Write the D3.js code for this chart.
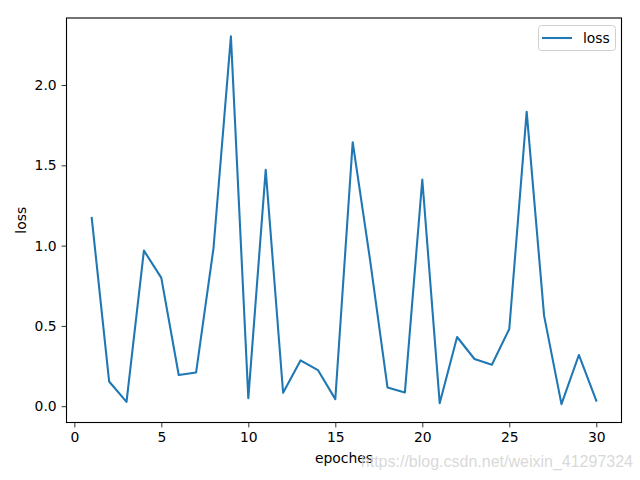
<!DOCTYPE html>
<html><head><meta charset="utf-8">
<script src="https://cdn.jsdelivr.net/npm/d3@7"></script>
<style>body{margin:0;background:#fff}svg{display:block}text{font-family:"DejaVu Sans",sans-serif}</style>
</head><body>
<svg id="c" width="640" height="480"></svg>
<script>
const epochs = [1,2,3,4,5,6,7,8,9,10,11,12,13,14,15,16,17,18,19,20,21,22,23,24,25,26,27,28,29,30];
const loss = [1.173,0.154,0.027,0.969,0.799,0.194,0.210,0.985,2.303,0.050,1.472,0.084,0.285,0.225,0.044,1.644,0.910,0.117,0.086,1.412,0.019,0.431,0.294,0.258,0.481,1.834,0.564,0.013,0.319,0.034];
const xTicks = [0,5,10,15,20,25,30];
const yTicks = [0.0,0.5,1.0,1.5,2.0];

const svg = d3.select("#c");
const L=66.5, R=621.5, T=18, B=422.5;
const xmin=d3.min(epochs), xmax=d3.max(epochs), xr=xmax-xmin;
const ymin=d3.min(loss), ymax=d3.max(loss), yr=ymax-ymin;
const x = d3.scaleLinear().domain([xmin-0.05*xr, xmax+0.05*xr]).range([L,R]);
const y = d3.scaleLinear().domain([ymin-0.05*yr, ymax+0.05*yr]).range([B,T]);

const xa = svg.append("g").attr("transform",`translate(0,${B})`)
  .call(d3.axisBottom(x).tickValues(xTicks).tickFormat(d3.format("d")).tickSize(4.9).tickPadding(4.9));
const ya = svg.append("g").attr("transform",`translate(${L},0)`)
  .call(d3.axisLeft(y).tickValues(yTicks).tickFormat(d3.format(".1f")).tickSize(4.9).tickPadding(4.9));
[xa,ya].forEach(a=>{
  a.select(".domain").remove();
  a.selectAll("line").attr("stroke","#000").attr("stroke-width",0.8);
  a.selectAll("text").attr("font-size","13.9px").attr("fill","#000").style("font-family","DejaVu Sans");
});

svg.append("path").datum(epochs.map((e,i)=>[e,loss[i]]))
  .attr("fill","none").attr("stroke","#1f77b4").attr("stroke-width",2.08)
  .attr("stroke-linejoin","round").attr("stroke-linecap","square")
  .attr("d", d3.line().x(d=>x(d[0])).y(d=>y(d[1])));

svg.append("rect").attr("x",L).attr("y",T).attr("width",R-L).attr("height",B-T)
  .attr("fill","none").attr("stroke","#000").attr("stroke-width",1.1);

svg.append("text").attr("x",(L+R)/2).attr("y",463).attr("text-anchor","middle")
  .attr("font-size","13.9px").text("epoches");
svg.append("text").attr("transform",`translate(26,${(T+B)/2}) rotate(-90)`).attr("text-anchor","middle")
  .attr("font-size","13.9px").text("loss");

// legend
const lg = svg.append("g");
lg.append("rect").attr("x",538.5).attr("y",25.5).attr("width",77).attr("height",25).attr("rx",3)
  .attr("fill","#fff").attr("fill-opacity",0.8).attr("stroke","#d0d0d0").attr("stroke-width",1);
lg.append("line").attr("x1",542).attr("x2",572).attr("y1",38).attr("y2",38)
  .attr("stroke","#1f77b4").attr("stroke-width",2.08);
lg.append("text").attr("x",583).attr("y",43).attr("font-size","13.9px").text("loss");

// watermark
svg.append("text").attr("x",633).attr("y",467).attr("text-anchor","end")
  .attr("font-size","16px").attr("fill","#d4d4d4").attr("fill-opacity",0.9)
  .style("font-family","Liberation Sans").text("https://blog.csdn.net/weixin_41297324");
</script>
</body></html>
